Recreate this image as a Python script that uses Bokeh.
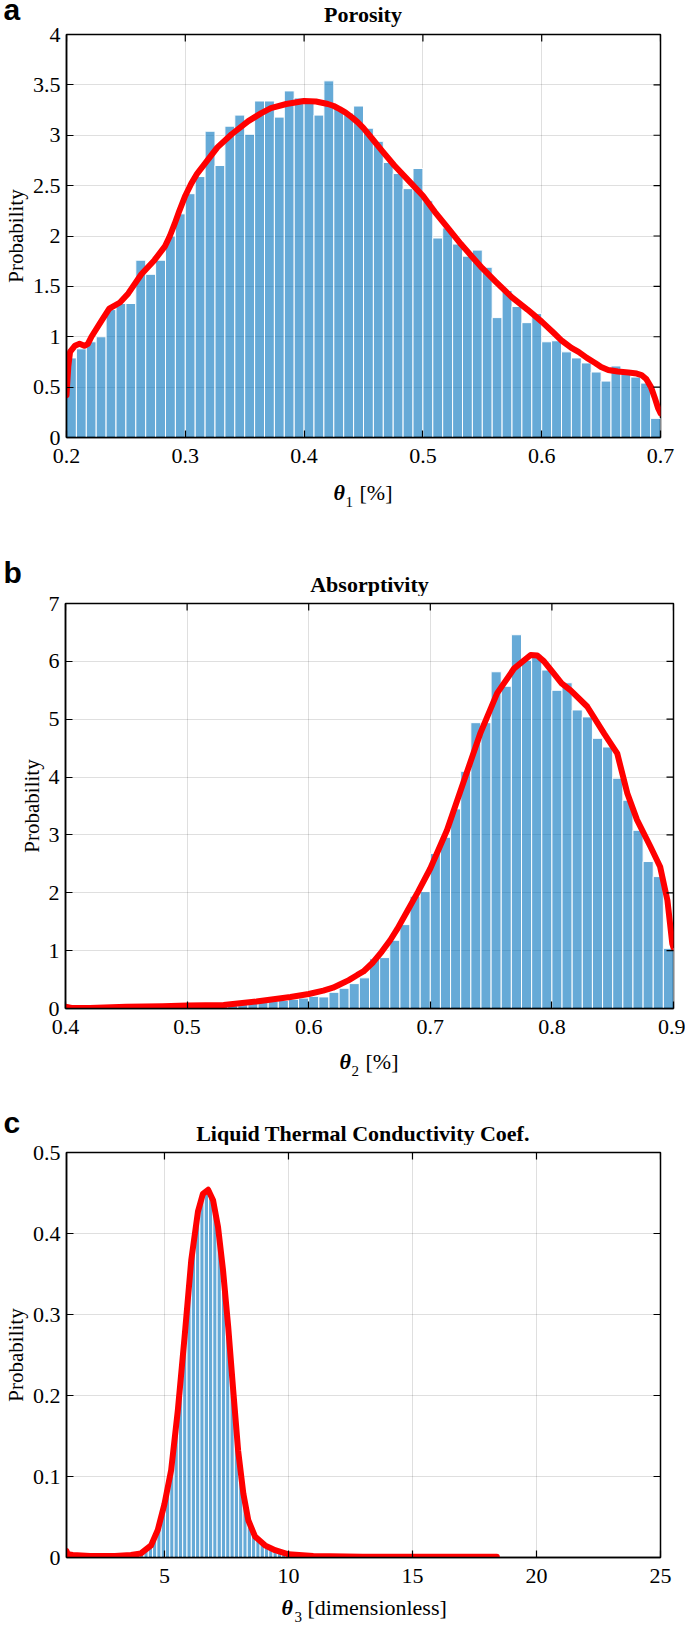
import math
from bokeh.plotting import figure
from bokeh.layouts import column
from bokeh.models import FixedTicker, CustomJSTickFormatter, Range1d
from bokeh.core.properties import value
from bokeh.embed import file_html
from bokeh.resources import INLINE

# ---------------- Panel a : Porosity ----------------
poro_title = "Porosity"
poro_xlim = (0.2, 0.7)
poro_ylim = (0, 4)
poro_x_ticks = [0.2, 0.3, 0.4, 0.5, 0.6, 0.7]
poro_y_ticks = [0, 0.5, 1, 1.5, 2, 2.5, 3, 3.5, 4]
poro_bin_start = 0.2
poro_bin_width = 0.5 / 60
poro_heights = [0.79, 0.88, 0.95, 1.00, 1.27, 1.33, 1.33, 1.76, 1.62, 1.76,
                2.00, 2.22, 2.42, 2.59, 3.04, 2.70, 3.09, 3.20, 3.01, 3.34,
                3.34, 3.18, 3.44, 3.37, 3.33, 3.20, 3.54, 3.27, 3.22, 3.29,
                3.07, 2.94, 2.73, 2.62, 2.47, 2.67, 2.35, 1.98, 2.08, 1.92,
                1.80, 1.86, 1.69, 1.19, 1.46, 1.30, 1.14, 1.23, 0.95, 0.96,
                0.85, 0.79, 0.74, 0.65, 0.56, 0.71, 0.63, 0.60, 0.54, 0.19]
poro_kde_x = [0.200, 0.2015, 0.203, 0.207, 0.211, 0.215, 0.218, 0.221, 0.229, 0.236,
              0.245, 0.252, 0.263, 0.274, 0.283, 0.287, 0.291, 0.295, 0.300, 0.305,
              0.310, 0.316, 0.327, 0.339, 0.353, 0.364, 0.372, 0.385, 0.400, 0.410,
              0.420, 0.425, 0.430, 0.435, 0.440, 0.445, 0.450, 0.457, 0.466, 0.476,
              0.488, 0.500, 0.510, 0.521, 0.532, 0.541, 0.550, 0.561, 0.575, 0.588,
              0.600, 0.610, 0.617, 0.625, 0.631, 0.638, 0.645, 0.650, 0.656, 0.664,
              0.673, 0.680, 0.684, 0.688, 0.692, 0.695, 0.698, 0.700]
poro_kde_y = [0.42, 0.70, 0.85, 0.91, 0.93, 0.91, 0.93, 1.00, 1.15, 1.28,
              1.34, 1.43, 1.62, 1.76, 1.90, 2.00, 2.12, 2.25, 2.40, 2.52,
              2.62, 2.71, 2.88, 3.01, 3.14, 3.22, 3.27, 3.31, 3.34, 3.335,
              3.31, 3.29, 3.26, 3.225, 3.18, 3.13, 3.07, 2.97, 2.84, 2.70,
              2.55, 2.40, 2.24, 2.08, 1.92, 1.80, 1.68, 1.55, 1.39, 1.27,
              1.15, 1.04, 0.96, 0.89, 0.85, 0.79, 0.74, 0.70, 0.67, 0.655,
              0.645, 0.635, 0.62, 0.58, 0.50, 0.40, 0.29, 0.24]

# ---------------- Panel b : Absorptivity ----------------
abso_title = "Absorptivity"
abso_xlim = (0.4, 0.9)
abso_ylim = (0, 7)
abso_x_ticks = [0.4, 0.5, 0.6, 0.7, 0.8, 0.9]
abso_y_ticks = [0, 1, 2, 3, 4, 5, 6, 7]
abso_bin_start = 0.4
abso_bin_width = 0.5 / 60
abso_heights = [0.01, 0.00, 0.01, 0.01, 0.01, 0.02, 0.01, 0.02, 0.02, 0.02,
                0.03, 0.03, 0.04, 0.04, 0.05, 0.06, 0.07, 0.08, 0.10, 0.11,
                0.13, 0.14, 0.16, 0.18, 0.21, 0.20, 0.28, 0.35, 0.43, 0.53,
                0.86, 0.88, 1.18, 1.45, 1.94, 2.02, 2.68, 2.96, 3.45, 4.10,
                4.94, 4.94, 5.82, 5.57, 6.46, 6.02, 6.12, 5.85, 5.50, 5.63,
                5.16, 5.04, 4.67, 4.52, 3.98, 3.60, 3.08, 2.54, 2.28, 1.04]
abso_kde_x = [0.400, 0.405, 0.420, 0.450, 0.480, 0.500, 0.530, 0.557, 0.585, 0.600,
              0.612, 0.620, 0.626, 0.633, 0.640, 0.645, 0.653, 0.660, 0.667, 0.673,
              0.681, 0.690, 0.700, 0.7137, 0.7274, 0.741, 0.755, 0.769, 0.7825, 0.788,
              0.7935, 0.800, 0.808, 0.8154, 0.829, 0.843, 0.8537, 0.862, 0.870, 0.881,
              0.889, 0.895, 0.899, 0.900]
abso_kde_y = [0.03, 0.01, 0.01, 0.03, 0.04, 0.05, 0.06, 0.12, 0.20, 0.25,
              0.31, 0.36, 0.42, 0.49, 0.58, 0.64, 0.80, 0.98, 1.18, 1.38,
              1.68, 2.02, 2.42, 3.08, 3.92, 4.75, 5.45, 5.88, 6.11, 6.10,
              6.00, 5.83, 5.62, 5.50, 5.22, 4.75, 4.41, 3.72, 3.26, 2.80,
              2.45, 1.87, 1.12, 1.05]

# ---------------- Panel c : Liquid thermal conductivity ----------------
cond_title = "Liquid Thermal Conductivity Coef."
cond_xlim = (1.05, 25)
cond_ylim = (0, 0.5)
cond_x_ticks = [5, 10, 15, 20, 25]
cond_y_ticks = [0, 0.1, 0.2, 0.3, 0.4, 0.5]
cond_bin_start = 1.05
cond_bin_width = 0.1735
cond_heights = [0.003, 0.002, 0.002, 0.001, 0.002, 0.002, 0.001, 0.002, 0.002, 0.001,
                0.002, 0.002, 0.002, 0.002, 0.003, 0.003, 0.004, 0.005, 0.009, 0.014,
                0.024, 0.038, 0.057, 0.083, 0.115, 0.162, 0.218, 0.276, 0.338, 0.388,
                0.425, 0.446, 0.453, 0.449, 0.430, 0.396, 0.349, 0.289, 0.222, 0.158,
                0.104, 0.066, 0.043, 0.030, 0.023, 0.017, 0.013, 0.010, 0.008, 0.006,
                0.004, 0.002, 0.002, 0.001, 0.001, 0.001, 0.001, 0.001, 0.000, 0.000,
                0.001, 0.000, 0.000, 0.000, 0.000, 0.000, 0.000, 0.000, 0.000, 0.000,
                0.000, 0.000, 0.000, 0.000, 0.000, 0.000, 0.000, 0.000, 0.000, 0.000,
                0.000, 0.000, 0.000, 0.000, 0.000, 0.000, 0.000, 0.000, 0.000, 0.000,
                0.000, 0.000, 0.000, 0.000, 0.000, 0.000, 0.000, 0.000, 0.000, 0.001]
cond_kde_x = [1.05, 1.10, 1.30, 2.00, 3.00, 3.65, 4.05, 4.46, 4.73, 5.00,
              5.27, 5.54, 5.81, 6.08, 6.35, 6.55, 6.76, 6.96, 7.16, 7.36,
              7.57, 7.77, 7.97, 8.18, 8.38, 8.65, 9.05, 9.46, 10.0, 11.0,
              13.0, 18.4]
cond_kde_y = [0.008, 0.004, 0.003, 0.002, 0.002, 0.003, 0.005, 0.015, 0.034, 0.066,
              0.108, 0.182, 0.272, 0.367, 0.427, 0.449, 0.454, 0.441, 0.408, 0.355,
              0.285, 0.207, 0.132, 0.079, 0.046, 0.026, 0.015, 0.009, 0.004, 0.002,
              0.001, 0.001]

SERIF = "Liberation Serif"
SANS = "Liberation Sans"
BAR_COLOR = "#0072BD"
LINE_COLOR = "#FF0000"
PAGE_W = 685

fmt = CustomJSTickFormatter(code="return Number(tick.toFixed(3)).toString();")


def style_axis(ax, ticks, standoff):
    ax.ticker = FixedTicker(ticks=ticks)
    ax.formatter = fmt
    ax.axis_line_color = "black"
    ax.axis_line_width = 1.5
    ax.major_tick_line_color = "black"
    ax.major_tick_line_width = 1.2
    ax.major_tick_in = 7
    ax.major_tick_out = 0
    ax.minor_tick_in = 0
    ax.minor_tick_out = 0
    ax.major_label_text_font = SERIF
    ax.major_label_text_font_size = "22px"
    ax.major_label_text_color = "black"
    ax.major_label_standoff = standoff


def make_panel(xlim, ylim, xticks, yticks, bin_start, bin_width, heights, kx, ky,
               height, b_top, b_bottom, b_right):
    p = figure(width=PAGE_W, height=height, title=None, frame_align=False,
               x_range=Range1d(*xlim), y_range=Range1d(*ylim),
               output_backend="svg", toolbar_location=None, tools="",
               min_border_left=65, min_border_right=b_right,
               min_border_top=b_top, min_border_bottom=b_bottom,
               background_fill_color="white", border_fill_color="white")
    p.outline_line_color = "black"
    p.outline_line_width = 1.5

    style_axis(p.xaxis[0], xticks, 11)
    style_axis(p.yaxis[0], yticks, 6)
    p.yaxis[0].axis_label = "Probability"
    p.yaxis[0].axis_label_text_font = SERIF
    p.yaxis[0].axis_label_text_font_size = "21px"
    p.yaxis[0].axis_label_text_font_style = "normal"
    p.yaxis[0].axis_label_text_color = "black"
    p.yaxis[0].axis_label_standoff = 2

    p.xgrid.ticker = FixedTicker(ticks=xticks)
    p.ygrid.ticker = FixedTicker(ticks=yticks)
    for g in (p.xgrid, p.ygrid):
        g.grid_line_color = "#262626"
        g.grid_line_alpha = 0.15
        g.grid_line_width = 1

    lefts = [bin_start + i * bin_width for i in range(len(heights))]
    rights = [l + bin_width for l in lefts]
    p.quad(left=lefts, right=rights, bottom=0, top=heights,
           fill_color=BAR_COLOR, fill_alpha=0.6, line_color="white", line_width=1.0)
    p.line(kx, ky, line_color=LINE_COLOR, line_width=6, line_join="round", line_cap="round")

    # mirrored inward ticks on the top and right edges (MATLAB box style)
    p.scatter(x=xticks, y=[ylim[1]] * len(xticks), marker="dash", angle=math.pi / 2,
              size=14, line_color="black", line_width=1.2)
    p.scatter(x=[xlim[1]] * len(yticks), y=yticks, marker="dash",
              size=14, line_color="black", line_width=1.2)
    return p


def text_strip(height, items):
    """A borderless strip in page-pixel coordinates (y down) holding loose texts.
    Each item gives the wanted baseline; the text is anchored at its middle."""
    f = figure(width=PAGE_W, height=height, title=None, frame_align=False,
               x_range=Range1d(0, PAGE_W), y_range=Range1d(height, 0),
               output_backend="svg", toolbar_location=None, tools="", min_border=0,
               x_axis_type=None, y_axis_type=None,
               background_fill_color="white", border_fill_color="white")
    f.outline_line_color = None
    f.grid.visible = False
    for (x, base, txt, font, size, style, align) in items:
        mid = base - 0.34 * size
        f.text(x=[x], y=[mid], text=[txt], text_font=value(font),
               text_font_size=value(f"{size}px"),
               text_font_style=style, text_align=align, text_baseline="middle",
               text_color="black")
    return f


def xlabel_items(x_sym, x_sub, x_rest, base, sym, sub, rest):
    return [
        (x_sym, base, sym, SERIF, 22, "bold italic", "left"),
        (x_sub, base + 8, sub, SERIF, 15, "normal", "left"),
        (x_rest, base, rest, SERIF, 22, "normal", "left"),
    ]


# page rows: 27 + 448 + 121 + 450 + 99 + 450 + 32 = 1627
header_a = text_strip(27, [
    (3, 19, "a", SANS, 30, "bold", "left"),
    (362.5, 21.5, poro_title, SERIF, 22, "bold", "center"),
])
fig_a = make_panel(poro_xlim, poro_ylim, poro_x_ticks, poro_y_ticks,
                   poro_bin_start, poro_bin_width, poro_heights, poro_kde_x, poro_kde_y,
                   448, 7, 38, 25)
gap_ab = text_strip(121, xlabel_items(333, 345, 359, 24, "θ", "1", "[%]") + [
    (3, 107, "b", SANS, 30, "bold", "left"),
    (369, 116, abso_title, SERIF, 22, "bold", "center"),
])
fig_b = make_panel(abso_xlim, abso_ylim, abso_x_ticks, abso_y_ticks,
                   abso_bin_start, abso_bin_width, abso_heights, abso_kde_x, abso_kde_y,
                   450, 7, 38, 12)
gap_bc = text_strip(99, xlabel_items(339, 351, 365, 22, "θ", "2", "[%]") + [
    (3, 86, "c", SANS, 30, "bold", "left"),
    (362.5, 94, cond_title, SERIF, 22, "bold", "center"),
])
fig_c = make_panel(cond_xlim, cond_ylim, cond_x_ticks, cond_y_ticks,
                   cond_bin_start, cond_bin_width, cond_heights, cond_kde_x, cond_kde_y,
                   450, 7, 38, 25)
footer_c = text_strip(32, xlabel_items(281, 294, 307, 19, "θ", "3", "[dimensionless]"))

layout = column(header_a, fig_a, gap_ab, fig_b, gap_bc, fig_c, footer_c, spacing=0)
open("out.html", "w").write(file_html(layout, INLINE))
